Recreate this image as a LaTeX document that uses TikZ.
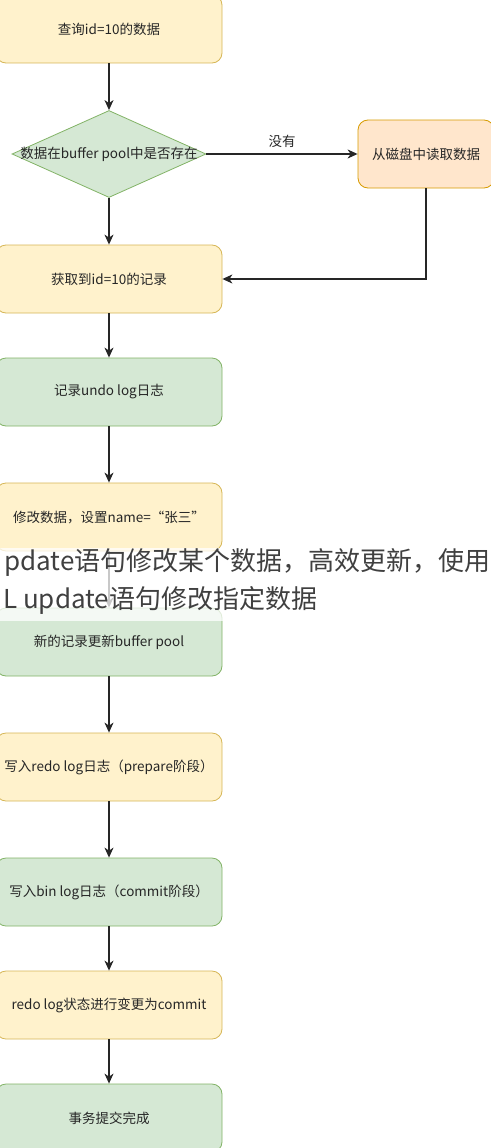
\documentclass[tikz,border=0pt]{standalone}
\usepackage{fontspec}
\setmainfont{Noto Sans CJK SC}
\usetikzlibrary{shapes.geometric,arrows.meta}
\definecolor{ylwfill}{HTML}{FFF2CC}
\definecolor{ylwline}{HTML}{D6B656}
\definecolor{grnfill}{HTML}{D5E8D4}
\definecolor{grnline}{HTML}{82B366}
\definecolor{orgfill}{HTML}{FFE6CC}
\definecolor{orgline}{HTML}{D79B00}

\begin{document}
\begin{tikzpicture}[x=1pt,y=-1pt,
    stepbox/.style={rounded corners=10pt,minimum width=226pt,minimum height=68pt,inner sep=0pt,
      line width=0.8pt,text=black!85,font=\fontsize{13.5}{16}\selectfont},
    yellowbox/.style={stepbox,draw=ylwline,fill=ylwfill},
    greenbox/.style={stepbox,draw=grnline,fill=grnfill},
    arr/.style={-{Stealth[length=10pt,width=9pt,inset=3pt]},line width=1.2pt,draw=black!85}]
  \useasboundingbox (0,0) rectangle (490,1148);

  \node[yellowbox] (query) at (109,29) {查询id=10的数据};
  \node[diamond,draw=grnline,fill=grnfill,line width=0.8pt,minimum width=194pt,minimum height=87pt,inner sep=0pt] (check) at (109,154) {};
  \node[text=black!85,font=\fontsize{13.5}{16}\selectfont] (checktext) at (check.center) {数据在buffer pool中是否存在};
  \node[stepbox,draw=orgline,fill=orgfill,minimum width=136pt] (disk) at (426,154) {从磁盘中读取数据};
  \node[yellowbox] (fetch) at (109,279) {获取到id=10的记录};
  \node[greenbox] (undo) at (109,392) {记录undo log日志};
  \node[yellowbox] (modify) at (109,517) {修改数据，设置name=“张三”};
  \node[greenbox] (buffer) at (109,642) {新的记录更新buffer pool};
  \node[yellowbox] (redo) at (109,767) {写入redo log日志（prepare阶段）};
  \node[greenbox] (binlog) at (109,892) {写入bin log日志（commit阶段）};
  \node[yellowbox] (commit) at (109,1005) {redo log状态进行变更为commit};
  \node[greenbox] (done) at (109,1118) {事务提交完成};

  \draw[arr] (query) -- (check.north);
  \draw[arr] (check.east) -- node[above=2pt,text=black!85,font=\fontsize{13.5}{16}\selectfont] {没有} (disk.west);
  \draw[arr] (check.south) -- (fetch);
  \draw[arr] (disk.south) |- (fetch.east);
  \draw[arr] (fetch) -- (undo);
  \draw[arr] (undo) -- (modify);
  \draw[arr] (modify) -- (buffer);
  \draw[arr] (buffer) -- (redo);
  \draw[arr] (redo) -- (binlog);
  \draw[arr] (binlog) -- (commit);
  \draw[arr] (commit) -- (done);

  % caption laid over the chart
  \fill[white,opacity=0.75] (0,548) rectangle (490,621);
  \node[anchor=west,inner sep=0pt,text=black!75,font=\fontsize{26}{30}\selectfont] (capone) at (4,562) {pdate语句修改某个数据，高效更新，使用};
  \node[anchor=west,inner sep=0pt,text=black!75,font=\fontsize{26}{30}\selectfont] (captwo) at (3,600) {L update语句修改指定数据};
\end{tikzpicture}
\end{document}
